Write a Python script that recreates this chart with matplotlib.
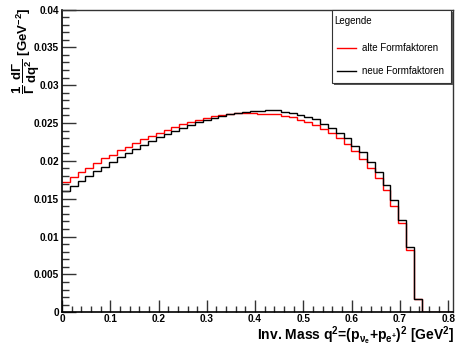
import numpy as np
import matplotlib
matplotlib.use("Agg")
import matplotlib.pyplot as plt
from matplotlib.lines import Line2D
from matplotlib.patches import Rectangle
from matplotlib.ticker import MultipleLocator

plt.rcParams['font.family'] = ['Liberation Sans', 'DejaVu Sans']
plt.rcParams['mathtext.fontset'] = 'custom'
plt.rcParams['mathtext.rm'] = 'Liberation Sans:bold'
plt.rcParams['mathtext.bf'] = 'Liberation Sans:bold'
plt.rcParams['mathtext.it'] = 'Liberation Sans:bold'
plt.rcParams['mathtext.default'] = 'bf'

# histogram binning: 50 bins from 0 to 0.81 GeV^2
x_min, x_max, n_bins = 0.0, 0.81, 50

alte_formfaktoren = [
    0.01719, 0.01785, 0.01847, 0.01909, 0.01970, 0.02041, 0.02081, 0.02138,
    0.02187, 0.02235, 0.02288, 0.02332, 0.02367, 0.02407, 0.02442, 0.02482,
    0.02508, 0.02539, 0.02561, 0.02588, 0.02605, 0.02614, 0.02632, 0.02632,
    0.02627, 0.02623, 0.02619, 0.02614, 0.02592, 0.02575, 0.02535, 0.02508,
    0.02469, 0.02416, 0.02363, 0.02297, 0.02217, 0.02129, 0.02024, 0.01909,
    0.01768, 0.01609, 0.01406, 0.01177, 0.00824, 0.00176, 0.0, 0.0, 0.0, 0.0,
]
neue_formfaktoren = [
    0.01604, 0.01671, 0.01737, 0.01799, 0.01869, 0.01922, 0.01984, 0.02045,
    0.02098, 0.02156, 0.02209, 0.02257, 0.02310, 0.02354, 0.02394, 0.02438,
    0.02473, 0.02508, 0.02539, 0.02570, 0.02592, 0.02614, 0.02632, 0.02650,
    0.02658, 0.02658, 0.02667, 0.02667, 0.02641, 0.02632, 0.02605, 0.02575,
    0.02548, 0.02486, 0.02429, 0.02372, 0.02297, 0.02200, 0.02116, 0.01988,
    0.01856, 0.01680, 0.01481, 0.01221, 0.00859, 0.00176, 0.0, 0.0, 0.0, 0.0,
]
series_labels = ["alte Formfaktoren", "neue Formfaktoren"]
legend_title = "Legende"
x_ticks = [0, 0.1, 0.2, 0.3, 0.4, 0.5, 0.6, 0.7, 0.8]
x_ticklabels = ["0", "0.1", "0.2", "0.3", "0.4", "0.5", "0.6", "0.7", "0.8"]
y_ticks = [0, 0.005, 0.01, 0.015, 0.02, 0.025, 0.03, 0.035, 0.04]
y_ticklabels = ["0", "0.005", "0.01", "0.015", "0.02", "0.025", "0.03", "0.035", "0.04"]

W, H = 456, 352
fig = plt.figure(figsize=(W / 100, H / 100), dpi=100)
ax = fig.add_axes([62 / W, 1 - 312.3 / H, (453 - 62) / W, (312.3 - 9.5) / H])

edges = np.linspace(x_min, x_max, n_bins + 1)
ax.stairs(alte_formfaktoren, edges, color='#ff0000', lw=1.0, baseline=None)
ax.stairs(neue_formfaktoren, edges, color='black', lw=1.0, baseline=None)

ax.set_xlim(x_min, x_max)
ax.set_ylim(0, 0.04)

ax.set_xticks(x_ticks)
ax.set_xticklabels(x_ticklabels, fontsize=7.2, fontweight='bold')
ax.set_yticks(y_ticks)
ax.set_yticklabels(y_ticklabels, fontsize=7.2, fontweight='bold')
ax.xaxis.set_minor_locator(MultipleLocator(0.02))
ax.yaxis.set_minor_locator(MultipleLocator(0.001))
ax.tick_params(which='both', direction='in', top=False, right=False, color='#333333')
ax.tick_params(which='major', axis='x', length=9, width=1, pad=1.2)
ax.tick_params(which='minor', axis='x', length=4.5, width=1)
ax.tick_params(which='major', axis='y', length=10, width=1, pad=2)
ax.tick_params(which='minor', axis='y', length=5, width=1)
for s in ['left', 'bottom']:
    ax.spines[s].set_linewidth(1.2)
for s in ['top', 'right']:
    ax.spines[s].set_linewidth(1.0)
    ax.spines[s].set_color('#333333')

# axis titles
fig.text(454 / W, 1 - 339.5 / H,
         r'Inv. Mass q$^2$=(p$_{\nu_{e}}$+p$_{e^{+}}$)$^2$ [GeV$^2$]',
         ha='right', va='baseline', fontsize=10, fontweight='bold')
fig.text(26 / W, 1 - 8 / H,
         r'$\dfrac{1}{\Gamma}\,\dfrac{d\Gamma}{dq^2}$ [GeV$^{-2}$]',
         rotation=90, ha='center', va='top', fontsize=9.5, fontweight='bold')

# legend box (ROOT style with shadow)
lx0, ly0, lx1, ly1 = 332, 9.5, 451, 83
fig.patches.append(Rectangle((lx0 / W + 2 / W, 1 - ly1 / H - 2 / H), (lx1 - lx0) / W, (ly1 - ly0) / H,
                             transform=fig.transFigure, facecolor='#555555', edgecolor='none', zorder=5))
fig.patches.append(Rectangle((lx0 / W, 1 - ly1 / H), (lx1 - lx0) / W, (ly1 - ly0) / H,
                             transform=fig.transFigure, facecolor='white', edgecolor='#333333', lw=0.8, zorder=6))
fig.text(334 / W, 1 - 21 / H, legend_title, ha='left', va='center', fontsize=7, zorder=7)
for yy, col, lab in [(48, '#ff0000', series_labels[0]), (71, 'black', series_labels[1])]:
    fig.add_artist(Line2D([337 / W, 356 / W], [1 - yy / H, 1 - yy / H], color=col, lw=1.0,
                          transform=fig.transFigure, zorder=7))
    fig.text(362 / W, 1 - yy / H, lab, ha='left', va='center', fontsize=7, zorder=7)

fig.savefig('out.png', dpi=100)
